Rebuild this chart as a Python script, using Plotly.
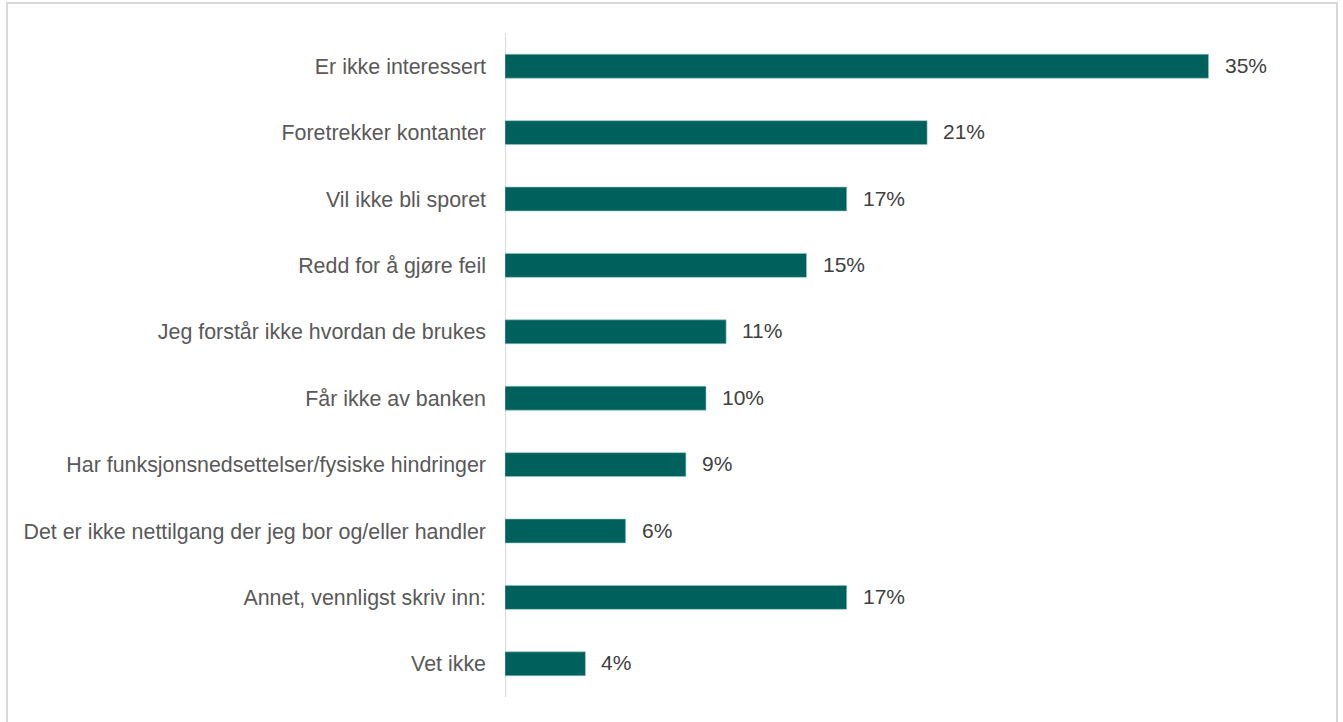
import plotly.graph_objects as go

categories = [
    "Er ikke interessert",
    "Foretrekker kontanter",
    "Vil ikke bli sporet",
    "Redd for å gjøre feil",
    "Jeg forstår ikke hvordan de brukes",
    "Får ikke av banken",
    "Har funksjonsnedsettelser/fysiske hindringer",
    "Det er ikke nettilgang der jeg bor og/eller handler",
    "Annet, vennligst skriv inn:",
    "Vet ikke",
]
values = [35, 21, 17, 15, 11, 10, 9, 6, 17, 4]

W, H = 1343, 722
ML, MR, MT, MB = 505, 34, 33, 25
XMAX = 40
FS = 21

fig = go.Figure(go.Bar(
    y=categories,
    x=values,
    orientation="h",
    marker=dict(color="#00605B", line=dict(color="#8FC5C2", width=0.6)),
    hoverinfo="skip",
))

for c, v in zip(categories, values):
    fig.add_annotation(
        x=v, y=c, xref="x", yref="y", text=f"{v}%", showarrow=False,
        xanchor="left", xshift=14, yshift=1,
        font=dict(family="Liberation Sans, Arial", size=FS, color="#404040"),
    )

pw = W - ML - MR
ph = H - MT - MB
fig.add_shape(
    type="rect", xref="paper", yref="paper",
    x0=(7 - ML) / pw, x1=(1337 - ML) / pw,
    y0=(H - 730 - MB) / ph, y1=(H - 3 - MB) / ph,
    line=dict(color="#D9D9D9", width=2), fillcolor="rgba(0,0,0,0)", layer="below",
)

fig.update_layout(
    width=W, height=H,
    margin=dict(l=ML, r=MR, t=MT, b=MB),
    paper_bgcolor="white", plot_bgcolor="white",
    bargap=0.64,
    showlegend=False,
    font=dict(family="Liberation Sans, Arial", size=FS, color="#595959"),
    xaxis=dict(range=[0, XMAX], visible=False, fixedrange=True),
    yaxis=dict(
        autorange="reversed", showgrid=False, zeroline=False,
        showline=False, ticks="", ticklabelstandoff=18,
        tickfont=dict(size=21.4, color="#595959"),
    ),
)
fig.add_shape(type="line", xref="x", yref="paper", x0=0, x1=0, y0=0, y1=1,
              line=dict(color="#D9D9D9", width=2), layer="below")

fig.write_html("out.html", config={"displayModeBar": False})
